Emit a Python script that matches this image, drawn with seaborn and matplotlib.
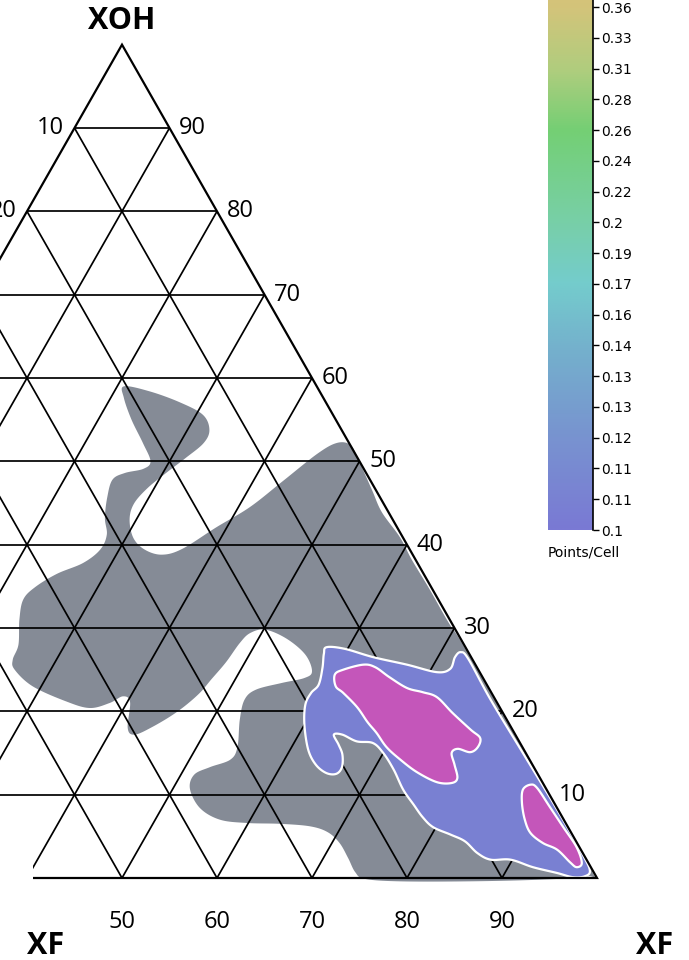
import numpy as np
import matplotlib
matplotlib.use("Agg")
import matplotlib.pyplot as plt
import seaborn as sns
from matplotlib.colors import LinearSegmentedColormap
from matplotlib.patches import Polygon, Rectangle

# ---------------------------------------------------------------
# Data: density contours in ternary composition (XF %, XOH %)
# ---------------------------------------------------------------
gray_xf = [20.7, 23.7, 27.5, 30.7, 32.3, 32.5, 31.5, 30.4, 29.3, 28.8, 29.3, 30.8,
           32.7, 34.8, 36.6, 38.9, 41.2, 43.1, 45.1, 46.5, 48.0, 49.6, 53.0, 55.4,
           58.8, 61.4, 64.9, 69.0, 72.5, 86.0, 98.7, 98.9, 94.1, 86.8, 79.4, 75.6,
           74.2, 72.6, 70.8, 68.9, 66.7, 63.4, 59.9, 56.8, 54.0, 51.8, 51.4, 52.6,
           54.3, 54.3, 52.9, 52.2, 52.8, 55.1, 57.2, 57.6, 55.9, 53.0, 50.2, 48.8,
           48.3, 48.0, 47.5, 47.0, 45.8, 44.1, 42.7, 41.6, 40.3, 39.2, 38.2, 36.4,
           33.5, 29.1, 26.2, 25.4, 25.1, 23.7, 22.9, 23.4, 24.9, 27.0, 28.0, 27.8,
           26.6, 25.6, 25.1, 26.0, 27.7, 28.0, 26.1, 23.5, 21.4]
gray_xoh = [59.0, 58.4, 57.1, 55.6, 53.8, 52.2, 50.4, 48.7, 46.8, 44.9, 43.0, 40.8,
            39.4, 38.8, 39.5, 42.1, 44.5, 47.6, 50.9, 52.2, 52.0, 50.4, 46.6, 43.9,
            40.9, 38.2, 34.8, 30.7, 27.4, 13.9, 1.2, 0.2, -0.2, -0.4, -0.4, -0.1,
            0.7, 2.4, 4.2, 5.5, 6.2, 6.5, 6.6, 7.0, 8.4, 10.7, 12.4, 13.3,
            14.2, 15.7, 19.0, 21.4, 22.6, 23.4, 24.0, 24.8, 26.8, 28.7, 29.8, 29.4,
            28.2, 25.9, 23.9, 22.0, 19.9, 18.1, 17.2, 18.0, 21.1, 21.8, 21.0, 20.4,
            21.2, 23.0, 25.0, 26.2, 28.0, 31.0, 33.4, 34.9, 36.5, 37.8, 39.4, 41.2,
            43.2, 45.7, 47.8, 48.6, 49.1, 50.0, 52.2, 55.0, 57.6]

blue_xf = [57.7, 59.7, 63.2, 67.2, 70.8, 72.0, 71.8, 72.1, 73.3, 78.1, 84.7, 91.4,
           96.9, 98.8, 98.6, 97.4, 95.5, 92.6, 89.8, 87.7, 85.9, 83.9, 82.0, 79.7,
           78.0, 76.3, 74.3, 72.1, 70.0, 68.3, 66.5, 64.6, 63.7, 64.8, 65.8, 66.5,
           66.3, 65.2, 63.6, 61.9, 60.0, 58.9, 58.8, 59.1, 58.5, 57.8]
blue_xoh = [27.7, 27.5, 26.5, 25.6, 24.7, 25.1, 26.5, 27.1, 26.3, 21.4, 15.0, 8.5,
            3.0, 0.9, 0.2, 0.1, 0.6, 1.3, 2.2, 2.2, 3.0, 4.4, 5.2, 6.1,
            7.3, 8.8, 10.6, 13.0, 15.0, 16.2, 16.4, 17.2, 17.2, 16.0, 14.8, 13.3,
            12.5, 12.6, 13.6, 15.4, 18.4, 20.8, 22.2, 23.2, 25.2, 26.9]

peak1_xf = [60.2, 60.8, 62.6, 64.0, 66.1, 68.6, 70.5, 72.3, 74.9, 77.8, 79.3, 79.6,
            79.1, 77.6, 77.2, 78.2, 79.3, 79.0, 77.4, 74.7, 72.2, 70.0, 68.1, 66.5,
            64.5, 62.2, 61.0]
peak1_xoh = [24.4, 25.0, 25.6, 25.3, 24.1, 22.8, 22.3, 21.7, 19.8, 17.8, 16.8, 15.7,
             15.1, 15.5, 15.0, 13.6, 12.0, 11.4, 11.5, 12.7, 14.2, 15.7, 17.4, 18.7,
             20.5, 22.2, 23.0]

peak2_xf = [86.9, 87.4, 88.3, 90.8, 93.4, 96.0, 97.5, 97.2, 96.2, 94.1, 92.2, 90.3,
            88.9, 87.6]
peak2_xoh = [10.6, 11.2, 10.8, 8.5, 6.1, 3.7, 1.8, 1.3, 1.9, 3.4, 4.2, 5.4,
             7.0, 9.0]

# Axis / grid values (labels listed for XOH = 10, 20, ..., 90)
grid_levels = [10, 20, 30, 40, 50, 60, 70, 80, 90]
left_labels = ["90", "80", "70", "60", "50", "40", "30", "20", "10"]
right_labels = ["10", "20", "30", "40", "50", "60", "70", "80", "90"]
bottom_ticks = [50, 60, 70, 80, 90]

# Colour scale (points per cell)
cbar_labels = ["0.1", "0.11", "0.11", "0.12", "0.13", "0.13", "0.14", "0.16", "0.17",
               "0.19", "0.2", "0.22", "0.24", "0.26", "0.28", "0.31", "0.33", "0.36"]
cbar_anchor_pos = [0, 3, 6, 8, 10, 13, 15, 17, 18.5]
cbar_anchor_col = ["#7a79d4", "#7893d0", "#74b2cc", "#74cccd", "#78cfa8",
                   "#74cf74", "#b0cd7e", "#d3c47a", "#dcbf78"]

GRAY = "#858b96"
BLUE = "#7980d2"
MAGENTA = "#c456ba"

# ---------------------------------------------------------------
sns.set_theme(style="white")
plt.rcParams["font.family"] = ["Open Sans", "DejaVu Sans"]
plt.rcParams["text.color"] = "black"
plt.rcParams["ytick.color"] = "black"
plt.rcParams["xtick.color"] = "black"


def to_xy(xf, xoh):
    xf = np.asarray(xf, float)
    xoh = np.asarray(xoh, float)
    return xf + xoh / 2.0, xoh


def smooth_closed(x, y, n=16):
    """Closed Catmull-Rom curve through the outline vertices."""
    P = np.column_stack([x, y])
    N = len(P)
    t = np.linspace(0, 1, n, endpoint=False)[:, None]
    segs = []
    for i in range(N):
        p0, p1, p2, p3 = P[(i - 1) % N], P[i], P[(i + 1) % N], P[(i + 2) % N]
        segs.append(0.5 * (2 * p1 + (-p0 + p2) * t
                           + (2 * p0 - 5 * p1 + 4 * p2 - p3) * t ** 2
                           + (-p0 + 3 * p1 - 3 * p2 + p3) * t ** 3))
    return np.vstack(segs)


fig = plt.figure(figsize=(6.89, 9.6), dpi=100)
ax = fig.add_axes([0, 0, 1, 1])
ax.set_xlim(37.158, 109.684)
ax.set_ylim(-9.84, 105.36)
ax.axis("off")

# filled density regions
for xf, xoh, col, ec, z in [(gray_xf, gray_xoh, GRAY, "none", 1),
                            (blue_xf, blue_xoh, BLUE, "white", 3),
                            (peak1_xf, peak1_xoh, MAGENTA, "white", 4),
                            (peak2_xf, peak2_xoh, MAGENTA, "white", 4)]:
    x, y = to_xy(xf, xoh)
    pts = smooth_closed(x, y)
    ax.add_patch(Polygon(pts, closed=True, facecolor=col, edgecolor=ec,
                         linewidth=1.6, zorder=z, joinstyle="round"))

# ternary grid
gkw = dict(color="black", lw=1.25, zorder=2, solid_capstyle="butt")
for k in grid_levels:
    ax.plot([k / 2, 100 - k / 2], [k, k], **gkw)
    ax.plot([k, k / 2], [0, k], **gkw)
    ax.plot([k, 50 + k / 2], [0, 100 - k], **gkw)

# triangle frame
ax.plot([0, 100, 50, 0], [0, 0, 100, 0], color="black", lw=1.6, zorder=5,
        solid_joinstyle="miter")

# blank corner below the lowest row
ax.add_patch(Rectangle((0, 0), 33 / 689, 160 / 960, transform=ax.transAxes,
                       facecolor="white", edgecolor="none", zorder=6))

# edge labels
for k, lt, rt in zip(grid_levels, left_labels, right_labels):
    ax.annotate(rt, xy=(100 - k / 2, k), xytext=(7, 0), textcoords="offset points",
                ha="left", va="center", fontsize=17, color="black", zorder=7)
    ax.annotate(lt, xy=(k / 2, k), xytext=(-7.5, 0), textcoords="offset points",
                ha="right", va="center", fontsize=17, color="black", zorder=7)
for b in bottom_ticks:
    ax.annotate(str(b), xy=(b, 0), xytext=(0, -32), textcoords="offset points",
                ha="center", va="center", fontsize=17, color="black", zorder=7)

ax.annotate("XOH", xy=(50, 100), xytext=(0, 17), textcoords="offset points",
            ha="center", va="center", fontsize=22, fontweight="bold",
            color="black", zorder=7)
fig.text(46 / 689, 1 - 946 / 960, "XF", ha="center", va="center",
         fontsize=22, fontweight="bold", color="black", zorder=7)
fig.text(655 / 689, 1 - 946 / 960, "XF", ha="center", va="center",
         fontsize=22, fontweight="bold", color="black", zorder=7)

# colour bar
cmap = LinearSegmentedColormap.from_list(
    "pts", [(p / cbar_anchor_pos[-1], c) for p, c in zip(cbar_anchor_pos, cbar_anchor_col)])
top = cbar_anchor_pos[-1]
cax = fig.add_axes([548 / 689, 1 - 530 / 960, 45 / 689, (530 + 39) / 960])
grad = np.linspace(0, top, 512).reshape(-1, 1)
cax.imshow(grad, aspect="auto", cmap=cmap, origin="lower",
           extent=[0, 1, 0, top], vmin=0, vmax=top)
cax.set_xlim(0, 1)
cax.set_ylim(0, top)
cax.set_xticks([])
cax.yaxis.tick_right()
cax.set_yticks(range(len(cbar_labels)))
cax.set_yticklabels(cbar_labels, fontfamily="DejaVu Sans")
cax.tick_params(axis="y", right=True, left=False, direction="out", length=4,
                width=1, pad=1.5, labelsize=10, colors="black")
for s in ["left", "top", "bottom"]:
    cax.spines[s].set_visible(False)
cax.spines["right"].set_color("black")
cax.spines["right"].set_linewidth(1.2)
fig.text(548 / 689, 1 - 552 / 960, "Points/Cell", ha="left", va="center",
         fontsize=10, fontfamily="DejaVu Sans", color="black")

fig.savefig("out.png", dpi=100)
